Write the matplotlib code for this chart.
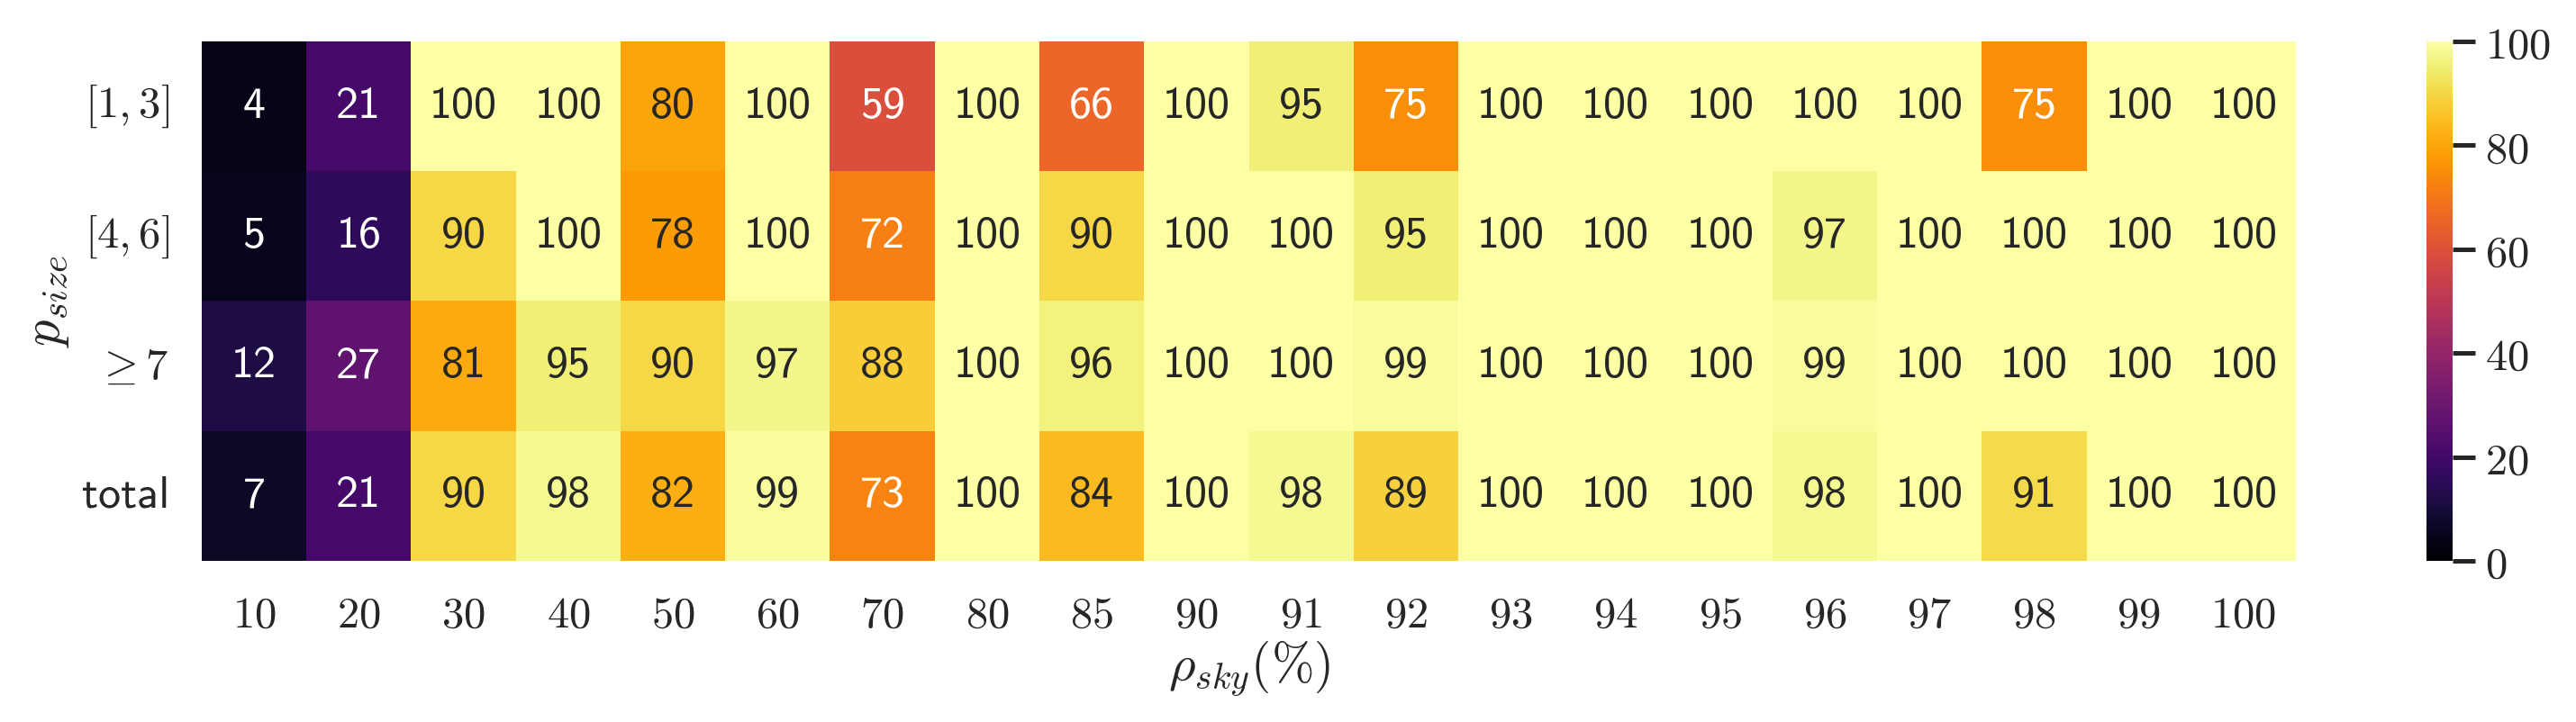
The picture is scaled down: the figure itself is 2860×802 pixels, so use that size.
import os
import numpy as np
import matplotlib
matplotlib.use('Agg')
import matplotlib.pyplot as plt
from matplotlib.font_manager import FontProperties
import seaborn as sns

# 数据
sky = [10, 20, 30, 40, 50, 60, 70, 80, 85, 90, 91, 92, 93, 94, 95, 96, 97, 98, 99, 100]
size_labels = [r'$[1,3]$', r'$[4,6]$', r'$\geq 7$', 'total']
row_1_3 = [4, 21, 100, 100, 80, 100, 59, 100, 66, 100, 95, 75, 100, 100, 100, 100, 100, 75, 100, 100]
row_4_6 = [5, 16, 90, 100, 78, 100, 72, 100, 90, 100, 100, 95, 100, 100, 100, 97, 100, 100, 100, 100]
row_ge7 = [12, 27, 81, 95, 90, 97, 88, 100, 96, 100, 100, 99, 100, 100, 100, 99, 100, 100, 100, 100]
row_total = [7, 21, 90, 98, 82, 99, 73, 100, 84, 100, 98, 89, 100, 100, 100, 98, 100, 91, 100, 100]

data = np.array([row_1_3, row_4_6, row_ge7, row_total])

# CM sans 字体（matplotlib 自带）
cmss = os.path.join(matplotlib.get_data_path(), 'fonts', 'ttf', 'cmss10.ttf')
fp_sans = FontProperties(fname=cmss, size=18)

plt.rcParams['mathtext.fontset'] = 'cm'
plt.rcParams['font.size'] = 17
plt.rcParams['text.color'] = '.15'
plt.rcParams['axes.labelcolor'] = '.15'
plt.rcParams['xtick.color'] = '.15'
plt.rcParams['ytick.color'] = '.15'

fig = plt.figure(figsize=(14.3, 4.01), dpi=200)
ax = fig.add_axes([0.0783, 0.2232, 0.813, 0.7195])
cax = fig.add_axes([0.942, 0.2232, 0.0101, 0.7195])

sns.heatmap(data, ax=ax, cbar_ax=cax, cmap='inferno', vmin=0, vmax=100,
            annot=True, fmt='d', annot_kws={'fontproperties': fp_sans},
            xticklabels=[r'$%d$' % s for s in sky], yticklabels=size_labels)

ax.tick_params(axis='both', length=0, labelsize=17.5)
ax.tick_params(axis='x', pad=13)
ax.tick_params(axis='y', pad=13)
ax.set_yticklabels(size_labels, rotation=0)
ax.get_yticklabels()[3].set_fontproperties(fp_sans)
ax.set_xticklabels([r'$%d$' % s for s in sky], rotation=0)
ax.set_xlabel(r'$\rho_{sky}(\%)$', fontsize=20.5, labelpad=1)
ax.set_ylabel(r'$p_{size}$', fontsize=21, labelpad=4)

cax.tick_params(length=9, width=1.8, pad=4, labelsize=17.5, colors='.15')
cax.set_yticks([0, 20, 40, 60, 80, 100])
cax.set_yticklabels([r'$%d$' % v for v in [0, 20, 40, 60, 80, 100]])

plt.savefig('out.png', dpi=200)
